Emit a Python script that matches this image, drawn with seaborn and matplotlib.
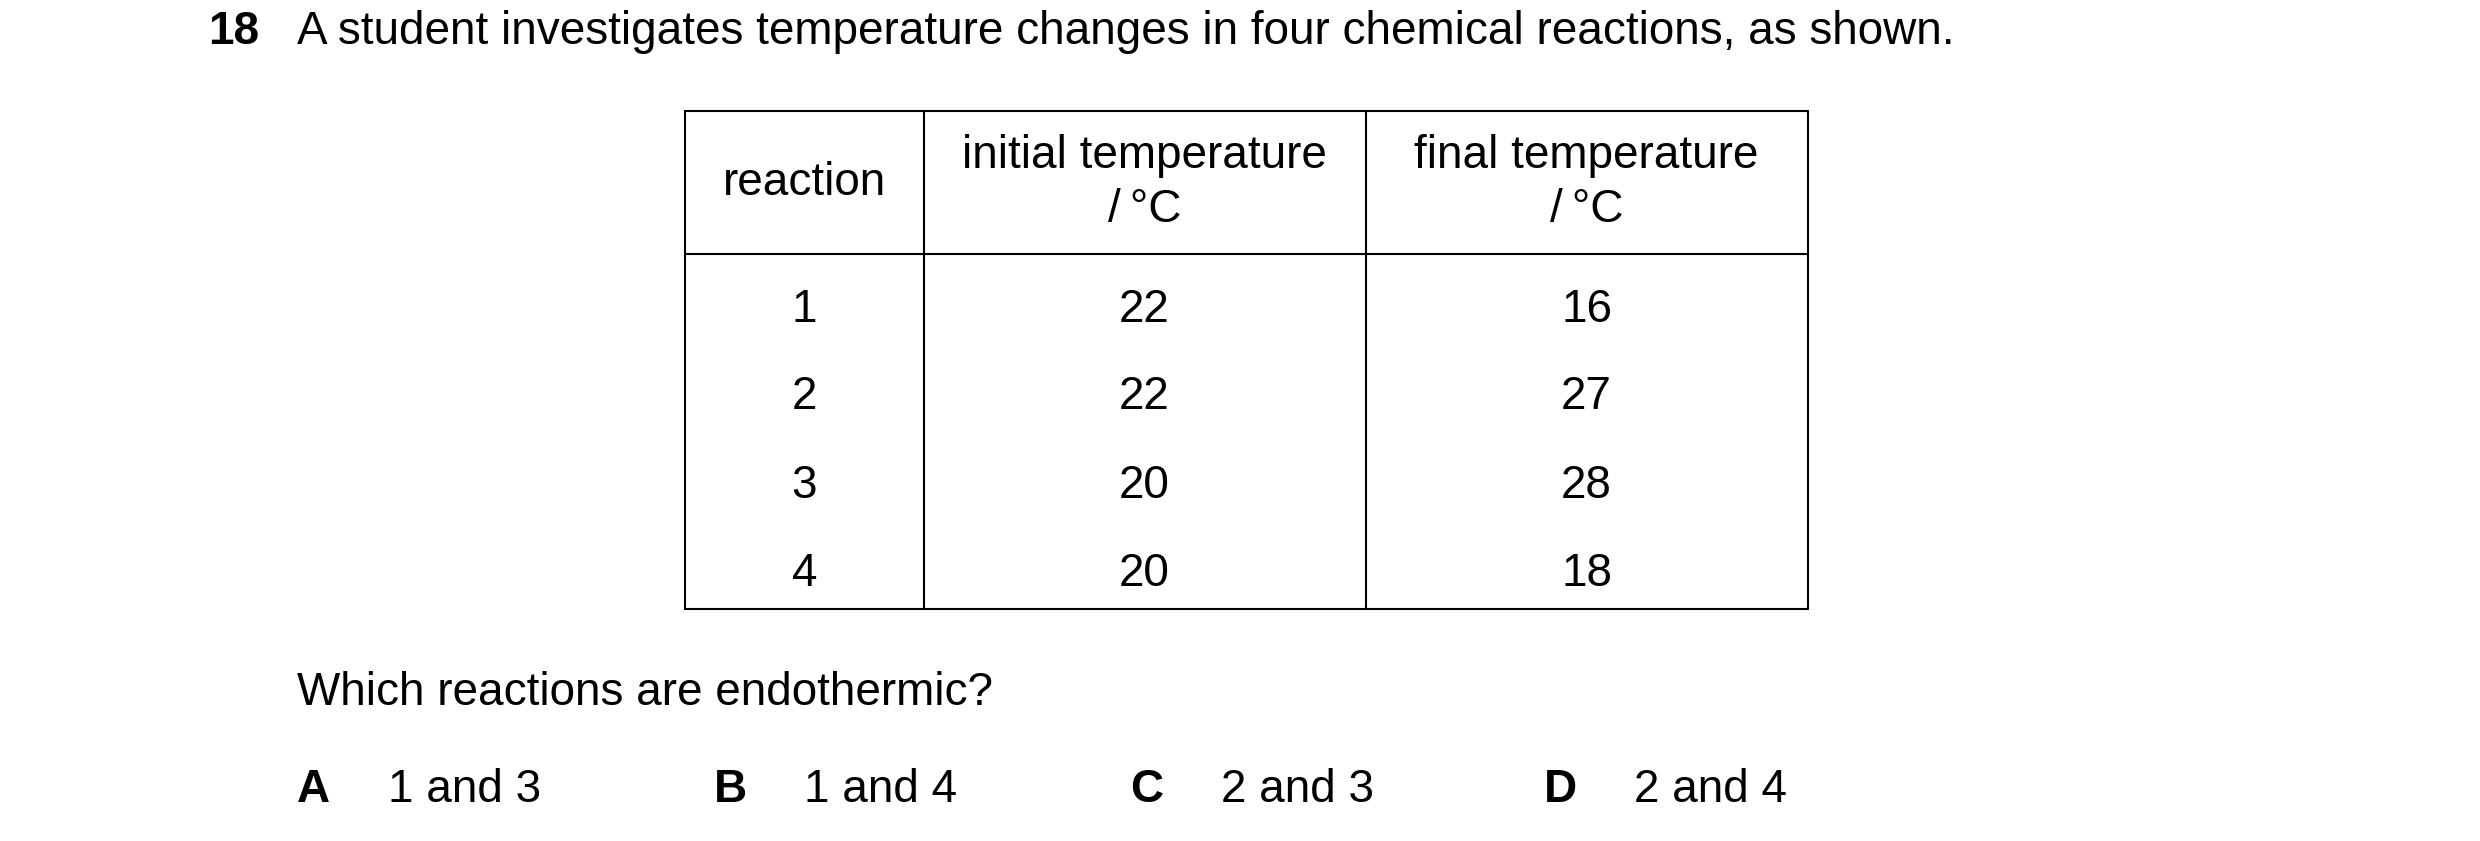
import matplotlib.pyplot as plt
import seaborn as sns

sns.set_style('white')
plt.rcParams['font.family'] = ['Liberation Sans', 'Arimo', 'DejaVu Sans']
plt.rcParams['text.color'] = 'black'

question_number = '18'
question = 'A student investigates temperature changes in four chemical reactions, as shown.'
headers = ['reaction', 'initial temperature\n/\u2009°C', 'final temperature\n/\u2009°C']
reactions = ['1', '2', '3', '4']
initial_temp = [22, 22, 20, 20]
final_temp = [16, 27, 28, 18]
prompt = 'Which reactions are endothermic?'
option_letters = ['A', 'B', 'C', 'D']
option_texts = ['1 and 3', '1 and 4', '2 and 3', '2 and 4']

fig = plt.figure(figsize=(24.8, 8.41), dpi=100)
ax = fig.add_axes([0, 0, 1, 1])
ax.set_xlim(0, 1560)
ax.set_ylim(529, 0)
ax.axis('off')

fs = 33
ax.text(131, 20, question_number, fontsize=fs, fontweight='bold', va='center')
ax.text(187, 20, question, fontsize=fs, va='center')

# table frame
left, right, top, head_bot, bottom = 431, 1137, 70, 160, 383
col_x = [left, 581, 859, right]
lw = 1.5
for y in [top, head_bot, bottom]:
    ax.plot([left, right], [y, y], color='black', lw=lw)
for x in col_x:
    ax.plot([x, x], [top, bottom], color='black', lw=lw)

centers = [(col_x[i] + col_x[i + 1]) / 2 for i in range(3)]
for c, h in zip(centers, headers):
    ax.text(c, 115, h, fontsize=fs, ha='center', va='center', linespacing=1.3)

row_y = [195, 250, 306, 361]
for y, r, a, b in zip(row_y, reactions, initial_temp, final_temp):
    for c, v in zip(centers, [r, a, b]):
        ax.text(c, y, str(v), fontsize=fs, ha='center', va='center')

ax.text(187, 436, prompt, fontsize=fs, va='center')

letter_x = [187, 449, 711, 971]
for x, l, t in zip(letter_x, option_letters, option_texts):
    ax.text(x, 497, l, fontsize=fs, fontweight='bold', va='center')
    ax.text(x + 57, 497, t, fontsize=fs, va='center')

fig.savefig('out.png', dpi=100, facecolor='white')
